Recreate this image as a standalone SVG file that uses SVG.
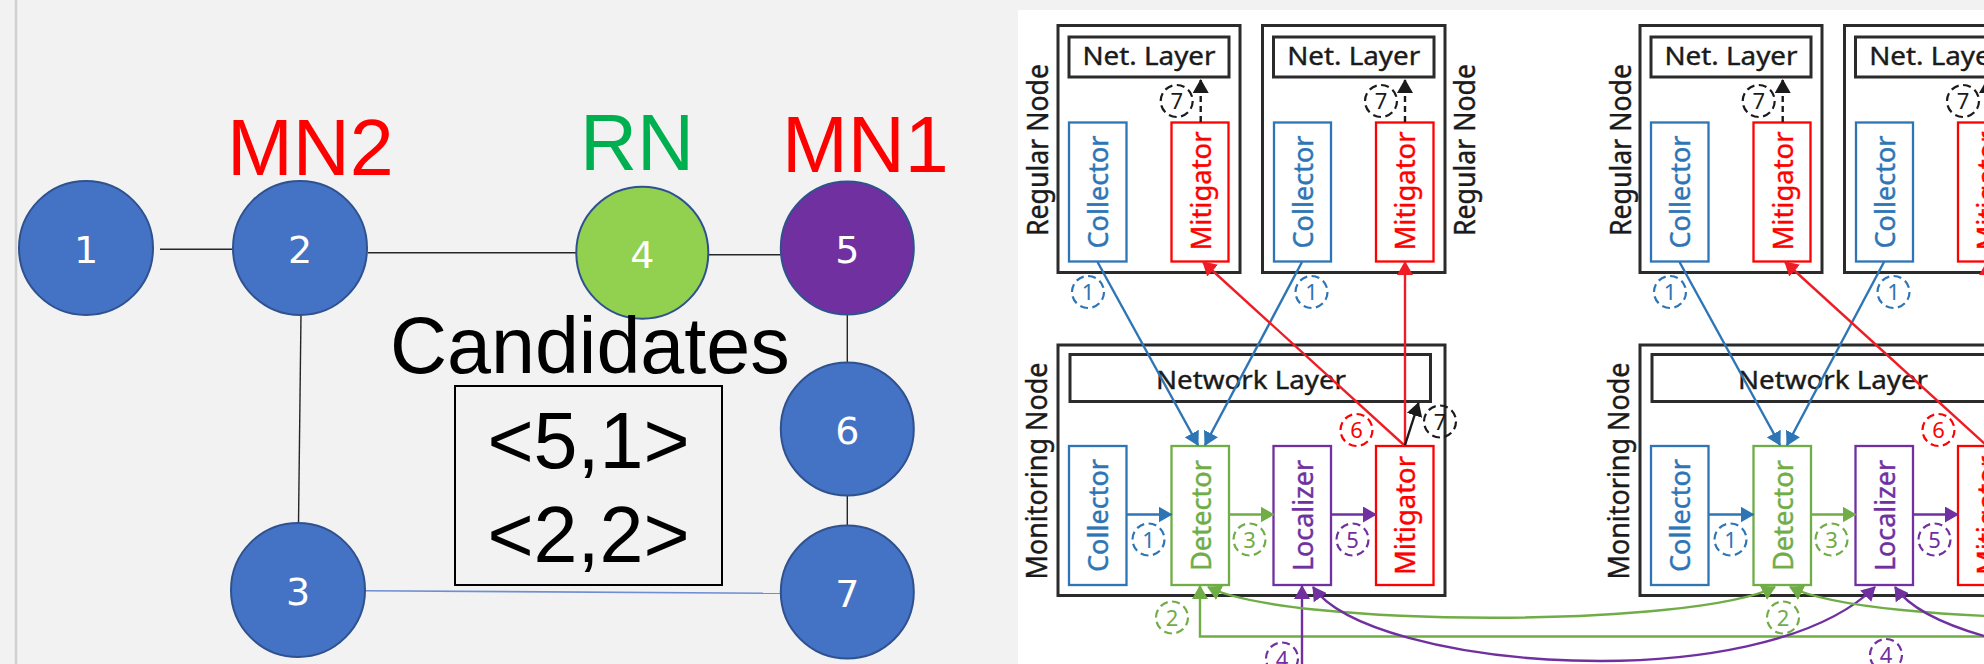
<svg xmlns="http://www.w3.org/2000/svg" width="1984" height="664" viewBox="0 0 1984 664">
<style>
.nd{stroke:#2f528f;stroke-width:2}
.num{font-family:"DejaVu Sans",sans-serif;font-size:38px;fill:#fff;text-anchor:middle}
.big{font-family:"Liberation Sans",Arial,sans-serif;font-size:79px}
.edge{stroke:#262626;stroke-width:1.4;fill:none}
.obox{fill:none;stroke:#2b2b2b;stroke-width:3}
.lbl{font-family:"Noto Sans","Open Sans",sans-serif;font-size:29px;fill:#1a1a1a;stroke:#1a1a1a;stroke-width:0.4;text-anchor:middle}
.net{font-family:"Noto Sans","Open Sans",sans-serif;font-size:26px;fill:#1a1a1a;stroke:#1a1a1a;stroke-width:0.4;text-anchor:middle}
.mt{font-family:"Noto Sans","Open Sans",sans-serif;font-size:27px;stroke-width:0.4;text-anchor:middle}
.mb{fill:#fff;stroke-width:2.3}
.cb{stroke:#2e75b6}.cg{stroke:#70ad47}.cp{stroke:#7030a0}.cr{stroke:#ff0000}.ck{stroke:#1a1a1a}
.tb{fill:#2e75b6}.tg{fill:#70ad47}.tp{fill:#7030a0}.tr{fill:#ff0000}.tk{fill:#1a1a1a}
.mt.tb{stroke:#2e75b6}.mt.tg{stroke:#70ad47}.mt.tp{stroke:#7030a0}.mt.tr{stroke:#ff0000}
.dc{fill:none;stroke-width:2.2;stroke-dasharray:8 4.5}
.dt{font-family:"Noto Sans","Open Sans",sans-serif;font-size:22px;text-anchor:middle}
.ln{fill:none;stroke-width:2.4}
</style>
<defs>
<marker id="ab" viewBox="0 0 14 16" refX="13" refY="8" markerWidth="14" markerHeight="16" markerUnits="userSpaceOnUse" orient="auto-start-reverse"><path d="M0,0 L14,8 L0,16 z" fill="#2e75b6"/></marker>
<marker id="ag" viewBox="0 0 14 16" refX="13" refY="8" markerWidth="14" markerHeight="16" markerUnits="userSpaceOnUse" orient="auto-start-reverse"><path d="M0,0 L14,8 L0,16 z" fill="#70ad47"/></marker>
<marker id="ap" viewBox="0 0 14 16" refX="13" refY="8" markerWidth="14" markerHeight="16" markerUnits="userSpaceOnUse" orient="auto-start-reverse"><path d="M0,0 L14,8 L0,16 z" fill="#7030a0"/></marker>
<marker id="ar" viewBox="0 0 14 16" refX="13" refY="8" markerWidth="14" markerHeight="16" markerUnits="userSpaceOnUse" orient="auto-start-reverse"><path d="M0,0 L14,8 L0,16 z" fill="#ee1c24"/></marker>
<marker id="ak" viewBox="0 0 14 16" refX="13" refY="8" markerWidth="14" markerHeight="16" markerUnits="userSpaceOnUse" orient="auto-start-reverse"><path d="M0,0 L14,8 L0,16 z" fill="#1a1a1a"/></marker>
</defs>

<rect x="0" y="0" width="1984" height="664" fill="#f2f2f2"/>
<line x1="16" y1="0" x2="16" y2="664" stroke="#d0d0d0" stroke-width="2.5"/>
<rect x="1018" y="10" width="966" height="654" fill="#ffffff"/>

<!-- LEFT GRAPH -->
<g id="graph-edges">
<line class="edge" x1="160" y1="249.3" x2="232" y2="249.3"/>
<line class="edge" x1="368" y1="252.7" x2="576" y2="252.7"/>
<line class="edge" x1="708.5" y1="254.7" x2="781" y2="254.7"/>
<line class="edge" x1="301" y1="314" x2="298.5" y2="524"/>
<line class="edge" x1="847.3" y1="314" x2="847.3" y2="363"/>
<line class="edge" x1="847.3" y1="495" x2="847.3" y2="526"/>
<line x1="365" y1="590.7" x2="781" y2="593.3" stroke="#6f8fd2" stroke-width="1.6"/>
</g>
<g id="node1"><circle class="nd" cx="86" cy="248" r="67" fill="#4472c4"/><text class="num" x="86" y="263">1</text></g>
<g id="node2"><circle class="nd" cx="300" cy="248" r="67" fill="#4472c4"/><text class="num" x="300" y="263">2</text></g>
<g id="node3"><circle class="nd" cx="298" cy="590" r="67" fill="#4472c4"/><text class="num" x="298" y="605">3</text></g>
<g id="node4"><circle class="nd" cx="642.3" cy="252.7" r="66" fill="#92d050"/><text class="num" x="642.3" y="268">4</text></g>
<g id="node5"><circle class="nd" cx="847.3" cy="248" r="66.5" fill="#7030a0"/><text class="num" x="847.3" y="263">5</text></g>
<g id="node6"><circle class="nd" cx="847.3" cy="429" r="66.5" fill="#4472c4"/><text class="num" x="847.3" y="444">6</text></g>
<g id="node7"><circle class="nd" cx="847.3" cy="592" r="66.5" fill="#4472c4"/><text class="num" x="847.3" y="607">7</text></g>
<g id="labels">
<text class="big" x="227" y="175" fill="#ff0000">MN2</text>
<text class="big" x="580" y="170" fill="#00b050">RN</text>
<text class="big" x="782" y="171.7" fill="#ff0000">MN1</text>
</g>
<g id="candidates">
<text class="big" x="390" y="373" font-size="77" fill="#000">Candidates</text>
<rect x="455" y="386" width="267" height="199" fill="none" stroke="#000" stroke-width="2"/>
<text class="big" x="588.5" y="468.3" text-anchor="middle" fill="#000">&lt;5,1&gt;</text>
<text class="big" x="588.5" y="561.7" text-anchor="middle" fill="#000">&lt;2,2&gt;</text>
</g>

<!-- RIGHT FIGURE, COPY A -->
<g id="rnA">
<rect class="obox" x="1058" y="25.5" width="182" height="247"/>
<rect class="obox" x="1069" y="37" width="160" height="40"/>
<text class="net" x="1149" y="65" textLength="133" lengthAdjust="spacingAndGlyphs">Net. Layer</text>
<rect class="mb cb" x="1069" y="122.5" width="57.5" height="139"/>
<text class="mt tb" transform="translate(1108.3,192) rotate(-90)" textLength="113" lengthAdjust="spacingAndGlyphs">Collector</text>
<rect class="mb cr" x="1171.5" y="122.5" width="57" height="139"/>
<text class="mt tr" transform="translate(1210.5,191) rotate(-90)" textLength="119" lengthAdjust="spacingAndGlyphs">Mitigator</text>
<text class="lbl" transform="translate(1048.3,150) rotate(-90)" textLength="172" lengthAdjust="spacingAndGlyphs">Regular Node</text>
<line class="ln ck" x1="1200.7" y1="122" x2="1200.7" y2="80" stroke-dasharray="6 4" marker-end="url(#ak)"/>
<circle class="dc ck" cx="1176.7" cy="101" r="16"/><text class="dt tk" x="1176.7" y="109">7</text>
</g>
<g id="rnB">
<rect class="obox" x="1262.5" y="25.5" width="182.5" height="247"/>
<rect class="obox" x="1273.5" y="37" width="160.5" height="40"/>
<text class="net" x="1353.7" y="65" textLength="133" lengthAdjust="spacingAndGlyphs">Net. Layer</text>
<rect class="mb cb" x="1274" y="122.5" width="57" height="139"/>
<text class="mt tb" transform="translate(1313,192) rotate(-90)" textLength="113" lengthAdjust="spacingAndGlyphs">Collector</text>
<rect class="mb cr" x="1376" y="122.5" width="57.5" height="139"/>
<text class="mt tr" transform="translate(1415.3,191) rotate(-90)" textLength="119" lengthAdjust="spacingAndGlyphs">Mitigator</text>
<text class="lbl" transform="translate(1475,150) rotate(-90)" textLength="172" lengthAdjust="spacingAndGlyphs">Regular Node</text>
<line class="ln ck" x1="1405" y1="122" x2="1405" y2="80" stroke-dasharray="6 4" marker-end="url(#ak)"/>
<circle class="dc ck" cx="1381" cy="101" r="16"/><text class="dt tk" x="1381" y="109">7</text>
</g>
<g id="mnA">
<rect class="obox" x="1058" y="345" width="387" height="250.5"/>
<rect class="obox" x="1070" y="354.5" width="360.5" height="47"/>
<text class="net" x="1251" y="388.5" textLength="190" lengthAdjust="spacingAndGlyphs">Network Layer</text>
<text class="lbl" transform="translate(1046.5,471) rotate(-90)" textLength="217" lengthAdjust="spacingAndGlyphs">Monitoring Node</text>
<rect class="mb cb" x="1069" y="446" width="57.5" height="139"/>
<text class="mt tb" transform="translate(1108.3,515.5) rotate(-90)" textLength="113" lengthAdjust="spacingAndGlyphs">Collector</text>
<rect class="mb cg" x="1171.5" y="446" width="57.5" height="139"/>
<text class="mt tg" transform="translate(1210.8,515.5) rotate(-90)" textLength="111" lengthAdjust="spacingAndGlyphs">Detector</text>
<rect class="mb cp" x="1273.5" y="446" width="57.5" height="139"/>
<text class="mt tp" transform="translate(1312.8,515.5) rotate(-90)" textLength="111" lengthAdjust="spacingAndGlyphs">Localizer</text>
<rect class="mb cr" x="1376" y="446" width="57.5" height="139"/>
<text class="mt tr" transform="translate(1415.3,515.5) rotate(-90)" textLength="119" lengthAdjust="spacingAndGlyphs">Mitigator</text>
</g>

<!-- RIGHT FIGURE, COPY B -->
<g id="rnC">
<rect class="obox" x="1640" y="25.5" width="182" height="247"/>
<rect class="obox" x="1651" y="37" width="160" height="40"/>
<text class="net" x="1731" y="65" textLength="133" lengthAdjust="spacingAndGlyphs">Net. Layer</text>
<rect class="mb cb" x="1651" y="122.5" width="57.5" height="139"/>
<text class="mt tb" transform="translate(1690.3,192) rotate(-90)" textLength="113" lengthAdjust="spacingAndGlyphs">Collector</text>
<rect class="mb cr" x="1753.5" y="122.5" width="57" height="139"/>
<text class="mt tr" transform="translate(1792.5,191) rotate(-90)" textLength="119" lengthAdjust="spacingAndGlyphs">Mitigator</text>
<text class="lbl" transform="translate(1631,150) rotate(-90)" textLength="172" lengthAdjust="spacingAndGlyphs">Regular Node</text>
<line class="ln ck" x1="1782.7" y1="122" x2="1782.7" y2="80" stroke-dasharray="6 4" marker-end="url(#ak)"/>
<circle class="dc ck" cx="1758.7" cy="101" r="16"/><text class="dt tk" x="1758.7" y="109">7</text>
</g>
<g id="rnD">
<rect class="obox" x="1844.5" y="25.5" width="182.5" height="247"/>
<rect class="obox" x="1855.5" y="37" width="160.5" height="40"/>
<text class="net" x="1935.7" y="65" textLength="133" lengthAdjust="spacingAndGlyphs">Net. Layer</text>
<rect class="mb cb" x="1856" y="122.5" width="57" height="139"/>
<text class="mt tb" transform="translate(1895,192) rotate(-90)" textLength="113" lengthAdjust="spacingAndGlyphs">Collector</text>
<rect class="mb cr" x="1958" y="122.5" width="57.5" height="139"/>
<text class="mt tr" transform="translate(1997.3,191) rotate(-90)" textLength="119" lengthAdjust="spacingAndGlyphs">Mitigator</text>
<line class="ln ck" x1="1987" y1="122" x2="1987" y2="80" stroke-dasharray="6 4" marker-end="url(#ak)"/>
<circle class="dc ck" cx="1963" cy="101" r="16"/><text class="dt tk" x="1963" y="109">7</text>
</g>
<g id="mnB">
<rect class="obox" x="1640" y="345" width="387" height="250.5"/>
<rect class="obox" x="1652" y="354.5" width="360.5" height="47"/>
<text class="net" x="1833" y="388.5" textLength="190" lengthAdjust="spacingAndGlyphs">Network Layer</text>
<text class="lbl" transform="translate(1629,471) rotate(-90)" textLength="217" lengthAdjust="spacingAndGlyphs">Monitoring Node</text>
<rect class="mb cb" x="1651" y="446" width="57.5" height="139"/>
<text class="mt tb" transform="translate(1690.3,515.5) rotate(-90)" textLength="113" lengthAdjust="spacingAndGlyphs">Collector</text>
<rect class="mb cg" x="1753.5" y="446" width="57.5" height="139"/>
<text class="mt tg" transform="translate(1792.8,515.5) rotate(-90)" textLength="111" lengthAdjust="spacingAndGlyphs">Detector</text>
<rect class="mb cp" x="1855.5" y="446" width="57.5" height="139"/>
<text class="mt tp" transform="translate(1894.8,515.5) rotate(-90)" textLength="111" lengthAdjust="spacingAndGlyphs">Localizer</text>
<rect class="mb cr" x="1958" y="446" width="57.5" height="139"/>
<text class="mt tr" transform="translate(1997.3,515.5) rotate(-90)" textLength="119" lengthAdjust="spacingAndGlyphs">Mitigator</text>
</g>

<g id="connectors">
<!-- copy A -->
<line class="ln cb" x1="1097.5" y1="262" x2="1198" y2="445" marker-end="url(#ab)"/>
<line class="ln cb" x1="1302" y1="262" x2="1205" y2="445" marker-end="url(#ab)"/>
<line class="ln" stroke="#ee1c24" x1="1404" y1="445" x2="1203" y2="262" marker-end="url(#ar)"/>
<line class="ln" stroke="#ee1c24" x1="1405" y1="445" x2="1405" y2="262" marker-end="url(#ar)"/>
<line class="ln ck" x1="1405" y1="445" x2="1418.5" y2="403" marker-end="url(#ak)"/>
<line class="ln cb" x1="1126.5" y1="514.5" x2="1171.5" y2="514.5" marker-end="url(#ab)"/>
<line class="ln cg" x1="1229" y1="514.5" x2="1273.5" y2="514.5" marker-end="url(#ag)"/>
<line class="ln cp" x1="1331" y1="514.5" x2="1376" y2="514.5" marker-end="url(#ap)"/>
<path class="ln cg" d="M2000,636.5 L1200,636.5 L1200,586" marker-end="url(#ag)"/>
<path class="ln cp" d="M1302,680 L1302,586" marker-end="url(#ap)"/>
<path class="ln cg" d="M1208,587 C1290,628 1693,628 1775,587" marker-start="url(#ag)" marker-end="url(#ag)"/>
<path class="ln cp" d="M1313,587 C1370,670 1760,700 1875,587" marker-start="url(#ap)" marker-end="url(#ap)"/>
<!-- copy B -->
<line class="ln cb" x1="1679.5" y1="262" x2="1780" y2="445" marker-end="url(#ab)"/>
<line class="ln cb" x1="1884" y1="262" x2="1787" y2="445" marker-end="url(#ab)"/>
<line class="ln" stroke="#ee1c24" x1="1986" y1="445" x2="1785" y2="262" marker-end="url(#ar)"/>
<line class="ln" stroke="#ee1c24" x1="1987" y1="445" x2="1987" y2="262" marker-end="url(#ar)"/>
<line class="ln cb" x1="1708.5" y1="514.5" x2="1753.5" y2="514.5" marker-end="url(#ab)"/>
<line class="ln cg" x1="1811" y1="514.5" x2="1855.5" y2="514.5" marker-end="url(#ag)"/>
<line class="ln cp" x1="1913" y1="514.5" x2="1958" y2="514.5" marker-end="url(#ap)"/>
<path class="ln cg" d="M1790,587 C1872,628 2275,628 2357,587" marker-start="url(#ag)"/>
<path class="ln cp" d="M1895,587 C1952,670 2342,700 2457,587" marker-start="url(#ap)"/>
</g>

<g id="step-labels">
<circle class="dc cb" cx="1088" cy="292" r="16"/><text class="dt tb" x="1088" y="300">1</text>
<circle class="dc cb" cx="1311.5" cy="292" r="16"/><text class="dt tb" x="1311.5" y="300">1</text>
<circle class="dc cr" cx="1356.5" cy="430" r="16"/><text class="dt tr" x="1356.5" y="438">6</text>
<circle class="dc ck" cx="1440" cy="421.5" r="16"/><text class="dt tk" x="1440" y="429.5">7</text>
<circle class="dc cb" cx="1148.5" cy="539.5" r="16"/><text class="dt tb" x="1148.5" y="547.5">1</text>
<circle class="dc cg" cx="1249.5" cy="539.5" r="16"/><text class="dt tg" x="1249.5" y="547.5">3</text>
<circle class="dc cp" cx="1352.5" cy="539.5" r="16"/><text class="dt tp" x="1352.5" y="547.5">5</text>
<circle class="dc cg" cx="1172" cy="617.5" r="16"/><text class="dt tg" x="1172" y="625.5">2</text>
<circle class="dc cp" cx="1282" cy="658.5" r="16"/><text class="dt tp" x="1282" y="666.5">4</text>
<circle class="dc cb" cx="1670" cy="292" r="16"/><text class="dt tb" x="1670" y="300">1</text>
<circle class="dc cb" cx="1893.5" cy="292" r="16"/><text class="dt tb" x="1893.5" y="300">1</text>
<circle class="dc cr" cx="1938.5" cy="430" r="16"/><text class="dt tr" x="1938.5" y="438">6</text>
<circle class="dc cb" cx="1730.5" cy="539.5" r="16"/><text class="dt tb" x="1730.5" y="547.5">1</text>
<circle class="dc cg" cx="1831.5" cy="539.5" r="16"/><text class="dt tg" x="1831.5" y="547.5">3</text>
<circle class="dc cp" cx="1934.5" cy="539.5" r="16"/><text class="dt tp" x="1934.5" y="547.5">5</text>
<circle class="dc cg" cx="1783" cy="617.5" r="16"/><text class="dt tg" x="1783" y="625.5">2</text>
<circle class="dc cp" cx="1886" cy="655" r="16"/><text class="dt tp" x="1886" y="663">4</text>
</g>
</svg>
